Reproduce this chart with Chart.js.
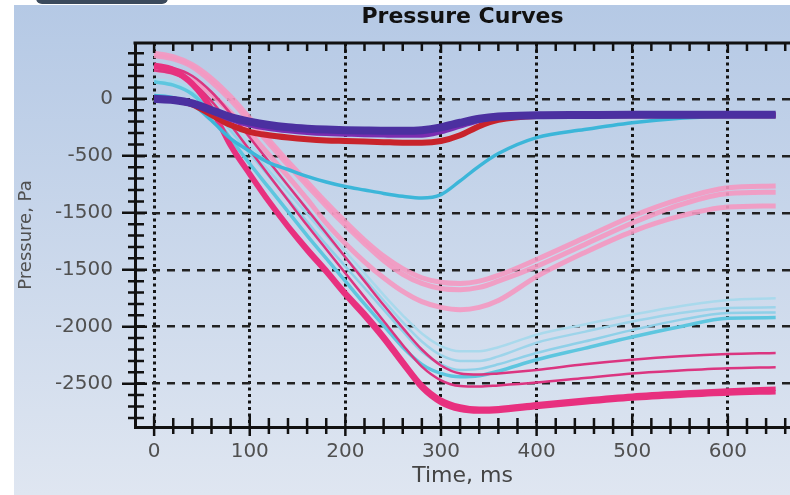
<!DOCTYPE html>
<html>
<head>
<meta charset="utf-8">
<title>Pressure Curves</title>
<script src="https://cdn.jsdelivr.net/npm/chart.js@4.4.0/dist/chart.umd.min.js"></script>
<style>
  html, body { margin: 0; padding: 0; background: #fff; }
  #wrap { width: 790px; height: 495px; }
</style>
</head>
<body>
<div id="wrap"><canvas id="pressureChart" width="790" height="495"></canvas></div>
<script>
// Time axis (ms) shared by every curve
const times = [0, 20, 40, 60, 80, 100, 120, 140, 160, 180, 200, 220, 240, 260, 280, 300, 320, 340, 360, 400, 450, 500, 550, 600, 650];

// Pressure curves, Pa
const blueCurve   = [0, -10, -40, -100, -160, -200, -230, -250, -262, -270, -275, -278, -280, -280, -275, -250, -210, -175, -155, -145, -142, -140, -140, -140, -140];
const purpleCurve = [10, 0, -40, -110, -180, -230, -260, -280, -295, -305, -310, -315, -318, -320, -320, -290, -240, -190, -160, -145, -142, -140, -140, -140, -140];
const redCurve    = [0, -10, -50, -140, -230, -290, -320, -340, -355, -365, -370, -375, -380, -385, -385, -370, -320, -240, -185, -150, -145, -145, -145, -145, -145];
const cyanCurve   = [30, 10, -50, -190, -350, -460, -560, -620, -680, -730, -770, -800, -830, -855, -870, -840, -720, -590, -480, -340, -270, -210, -170, -150, -140];

const pinkA = [400, 370, 300, 180, 20, -170, -360, -550, -730, -910, -1080, -1240, -1380, -1490, -1570, -1610, -1620, -1600, -1550, -1410, -1220, -1030, -880, -780, -765];
const pinkB = [380, 350, 280, 150, -10, -200, -390, -580, -760, -940, -1110, -1270, -1420, -1540, -1620, -1665, -1675, -1655, -1600, -1470, -1280, -1090, -930, -830, -820];
const pinkC = [260, 230, 160, 40, -120, -300, -490, -680, -880, -1090, -1270, -1430, -1570, -1690, -1780, -1830, -1850, -1830, -1770, -1560, -1350, -1165, -1030, -950, -940];

const lightBlueA = [170, 150, 80, -50, -220, -400, -580, -770, -960, -1150, -1340, -1530, -1720, -1900, -2060, -2170, -2215, -2215, -2180, -2070, -1980, -1895, -1820, -1765, -1750];
const lightBlueB = [160, 140, 70, -70, -250, -440, -630, -820, -1010, -1200, -1390, -1580, -1770, -1960, -2130, -2250, -2300, -2300, -2260, -2140, -2045, -1955, -1880, -1835, -1830];
const lightBlueC = [150, 130, 60, -90, -280, -480, -680, -880, -1080, -1280, -1470, -1660, -1850, -2040, -2220, -2330, -2380, -2370, -2330, -2230, -2130, -2030, -1940, -1880, -1875];
const lightBlueD = [150, 120, 40, -130, -350, -570, -780, -990, -1200, -1400, -1600, -1800, -1990, -2180, -2330, -2410, -2440, -2430, -2390, -2290, -2190, -2090, -2000, -1925, -1920];

const thinMagentaA = [290, 270, 200, 60, -130, -340, -550, -760, -970, -1180, -1390, -1600, -1810, -2010, -2200, -2340, -2410, -2420, -2410, -2380, -2330, -2290, -2260, -2240, -2230];
const thinMagentaB = [250, 220, 140, -20, -230, -450, -670, -890, -1110, -1320, -1530, -1740, -1950, -2160, -2350, -2470, -2520, -2525, -2515, -2490, -2450, -2410, -2385, -2365, -2355];

const magentaA = [300, 260, 140, -80, -400, -650, -890, -1110, -1310, -1500, -1700, -1880, -2080, -2300, -2510, -2640, -2700, -2720, -2715, -2680, -2640, -2605, -2580, -2560, -2545];
const magentaB = [280, 240, 120, -100, -420, -670, -910, -1130, -1335, -1525, -1725, -1910, -2110, -2330, -2540, -2670, -2730, -2745, -2740, -2705, -2665, -2630, -2605, -2585, -2575];

// Axis ticks and labels as printed on the chart
const xTickValues = [0, 100, 200, 300, 400, 500, 600];
const yTickValues = [0, -500, -1000, -1500, -2000, -2500];
const yTickLabels = ["0", "-500", "-1500", "-1500", "-2000", "-2500"];

const toPoints = (vals) => vals.map((v, i) => ({ x: times[i], y: v }));

function curve(data, color, width, order) {
  return {
    data: toPoints(data),
    borderColor: color,
    borderWidth: width,
    pointRadius: 0,
    fill: false,
    cubicInterpolationMode: "monotone",
    order: order,
  };
}

// Paint the page background (white margin + blue panel)
const backdrop = {
  id: "backdrop",
  beforeDraw(chart) {
    const ctx = chart.ctx;
    ctx.save();
    ctx.fillStyle = "#ffffff";
    ctx.fillRect(0, 0, chart.width, chart.height);
    const g = ctx.createLinearGradient(0, 5, 0, chart.height);
    g.addColorStop(0, "#b5c9e5");
    g.addColorStop(1, "#dfe6f1");
    ctx.fillStyle = g;
    ctx.fillRect(14, 5, chart.width - 14, chart.height - 5);
    // bit of a dark button cut off at the top
    ctx.fillStyle = "#3b4a5c";
    ctx.beginPath();
    ctx.roundRect(36, -12, 132, 16, 6);
    ctx.fill();
    ctx.restore();
  },
};

// Frame line on top plus the minor ticks across the axes
const frameTicks = {
  id: "frameTicks",
  afterDraw(chart) {
    const { ctx, chartArea: a } = chart;
    const x = chart.scales.x;
    const y = chart.scales.y;
    ctx.save();
    ctx.strokeStyle = "#111";
    ctx.lineWidth = 3;
    ctx.beginPath();
    ctx.moveTo(a.left - 1.5, a.top);
    ctx.lineTo(a.right, a.top);
    ctx.stroke();

    ctx.lineWidth = 2.5;
    ctx.beginPath();
    for (let t = 0; t <= x.max; t += 20) {
      const px = x.getPixelForValue(t);
      const major = t % 100 === 0;
      ctx.moveTo(px, a.bottom - (major ? 11 : 9));
      ctx.lineTo(px, a.bottom + (major ? 9 : 7));
      ctx.moveTo(px, a.top);
      ctx.lineTo(px, a.top + (major ? 10 : 8));
    }
    for (let v = 400; v >= y.min; v -= 100) {
      const py = y.getPixelForValue(v);
      const major = v % 500 === 0;
      ctx.moveTo(a.left - (major ? 13 : 7), py);
      ctx.lineTo(a.left + (major ? 12 : 9), py);
    }
    ctx.stroke();
    ctx.restore();
  },
};

new Chart(document.getElementById("pressureChart"), {
  type: "line",
  data: {
    datasets: [
      curve(pinkA, "rgba(244,152,193,0.9)", 5, 9),
      curve(pinkB, "rgba(244,152,193,0.9)", 5, 9),
      curve(pinkC, "rgba(244,152,193,0.9)", 5, 9),
      curve(lightBlueA, "#a9d9ec", 2.5, 8),
      curve(lightBlueB, "#9dd4ea", 2.5, 8),
      curve(lightBlueC, "#8fd0e8", 2.5, 8),
      curve(lightBlueD, "#5ec6df", 3.5, 7),
      curve(thinMagentaA, "#db3580", 2.5, 6),
      curve(thinMagentaB, "#db3580", 2.5, 6),
      curve(magentaA, "#e8307f", 4.5, 5),
      curve(magentaB, "#e8307f", 4.5, 5),
      curve(cyanCurve, "#3cb6d9", 3.5, 4),
      curve(redCurve, "#c8232b", 6, 3),
      curve(purpleCurve, "#7b2cb0", 5, 2),
      curve(blueCurve, "#4b30a0", 8, 1),
    ],
  },
  options: {
    responsive: false,
    animation: false,
    layout: { padding: 0 },
    plugins: {
      legend: { display: false },
      tooltip: { enabled: false },
      title: {
        display: true,
        text: "Pressure Curves",
        fullSize: false,
        color: "#111",
        font: { family: "DejaVu Sans", size: 22, weight: "bold" },
        padding: { top: 4, bottom: 12.6 },
      },
    },
    scales: {
      x: {
        type: "linear",
        min: -20,
        max: 665,
        afterBuildTicks: (axis) => {
          axis.ticks = xTickValues.map((v) => ({ value: v }));
        },
        afterFit: (s) => {
          s.height = 68;
        },
        grid: { color: "#151515", lineWidth: 3, drawTicks: false },
        border: { display: true, color: "#111", width: 3, dash: [3, 3.5] },
        ticks: {
          autoSkip: false,
          maxRotation: 0,
          padding: 13,
          color: "#505050",
          font: { family: "DejaVu Sans", size: 20 },
          callback: (v) => String(v),
        },
        title: {
          display: true,
          text: "Time, ms",
          color: "#454545",
          font: { family: "DejaVu Sans", size: 22 },
          padding: { bottom: 6 },
        },
      },
      y: {
        type: "linear",
        min: -2880,
        max: 490,
        afterBuildTicks: (axis) => {
          axis.ticks = yTickValues.map((v) => ({ value: v }));
        },
        afterFit: (s) => {
          s.width = 135;
        },
        grid: { color: "#222", lineWidth: 2.5, drawTicks: false },
        border: { display: true, color: "#111", width: 3, dash: [8, 7] },
        ticks: {
          autoSkip: false,
          padding: 22,
          color: "#505050",
          font: { family: "DejaVu Sans", size: 20 },
          callback: (v) => yTickLabels[yTickValues.indexOf(v)],
        },
        title: {
          display: true,
          text: "Pressure, Pa",
          color: "#505050",
          font: { family: "DejaVu Sans", size: 18 },
          padding: { top: 16 },
        },
      },
    },
  },
  plugins: [backdrop, frameTicks],
});
</script>
</body>
</html>
